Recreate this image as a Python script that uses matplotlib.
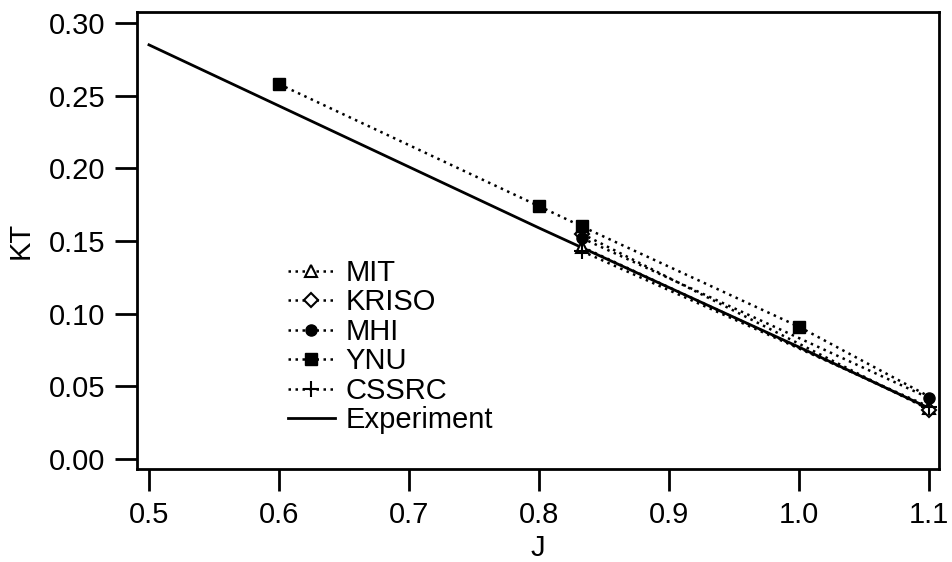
import matplotlib
matplotlib.use("Agg")
import matplotlib.pyplot as plt

plt.rcParams['font.family'] = ['Liberation Sans', 'DejaVu Sans']

# Data
exp_J = [0.5, 0.6, 0.7, 0.8, 0.9, 1.0, 1.1]
exp_KT = [0.285, 0.243, 0.201, 0.159, 0.118, 0.077, 0.035]

mit_J = [0.833, 1.1]
mit_KT = [0.146, 0.035]
kriso_J = [0.833, 1.1]
kriso_KT = [0.155, 0.034]
mhi_J = [0.833, 1.1]
mhi_KT = [0.152, 0.042]
ynu_J = [0.6, 0.8, 0.833, 1.0, 1.1]
ynu_KT = [0.258, 0.174, 0.160, 0.091, 0.043]
cssrc_J = [0.833, 1.1]
cssrc_KT = [0.143, 0.036]

xticks = [0.5, 0.6, 0.7, 0.8, 0.9, 1.0, 1.1]
yticks = [0.00, 0.05, 0.10, 0.15, 0.20, 0.25, 0.30]

FS = 21

fig = plt.figure(figsize=(9.52, 5.62), dpi=100)
ax = fig.add_axes([137/952, 1-469/562, (939-137)/952, (469-12)/562])

dot = (0, (1, 1.8))
lw = 1.8
ms = 8
ax.plot(exp_J, exp_KT, color='black', lw=2.0, ls='-', label='Experiment', zorder=2)
l_mit, = ax.plot(mit_J, mit_KT, color='black', lw=lw, ls=dot, marker='^', mfc='white',
                 mec='black', ms=ms, mew=1.5, label='MIT', zorder=3)
l_kriso, = ax.plot(kriso_J, kriso_KT, color='black', lw=lw, ls=dot, marker='D', mfc='white',
                   mec='black', ms=7, mew=1.5, label='KRISO', zorder=3)
l_ynu, = ax.plot(ynu_J, ynu_KT, color='black', lw=lw, ls=dot, marker='s', mfc='black',
                 mec='black', ms=ms, markevery=[0, 1, 2, 3], label='YNU', zorder=3)
l_mhi, = ax.plot(mhi_J, mhi_KT, color='black', lw=lw, ls=dot, marker='o', mfc='black',
                 mec='black', ms=ms, label='MHI', zorder=4)
l_cssrc, = ax.plot(cssrc_J, cssrc_KT, color='black', lw=lw, ls=dot, marker='+',
                   mec='black', ms=12, mew=1.5, label='CSSRC', zorder=5)
l_exp = ax.lines[0]

ax.set_xlim(0.4908, 1.1077)
ax.set_ylim(-0.0069, 0.3076)
ax.set_xticks(xticks)
ax.set_xticklabels([f"{v:.1f}" for v in xticks])
ax.set_yticks(yticks)
ax.set_yticklabels([f"{v:.2f}" for v in yticks])
ax.tick_params(direction='out', length=16, width=2, labelsize=FS, pad=7, color='black')
for s in ax.spines.values():
    s.set_linewidth(2)
ax.set_xlabel('J', fontsize=FS, labelpad=4)
ax.set_ylabel('KT', fontsize=FS, labelpad=10)

leg = ax.legend(handles=[l_mit, l_kriso, l_mhi, l_ynu, l_cssrc, l_exp],
                labels=['MIT', 'KRISO', 'MHI', 'YNU', 'CSSRC', 'Experiment'],
                loc='upper left', bbox_to_anchor=(288/952, 1-259/562),
                bbox_transform=fig.transFigure, frameon=False, fontsize=FS,
                handlelength=1.6, handletextpad=0.38, labelspacing=0.05,
                borderpad=0, borderaxespad=0, numpoints=1)

fig.savefig('out.png', dpi=100)
